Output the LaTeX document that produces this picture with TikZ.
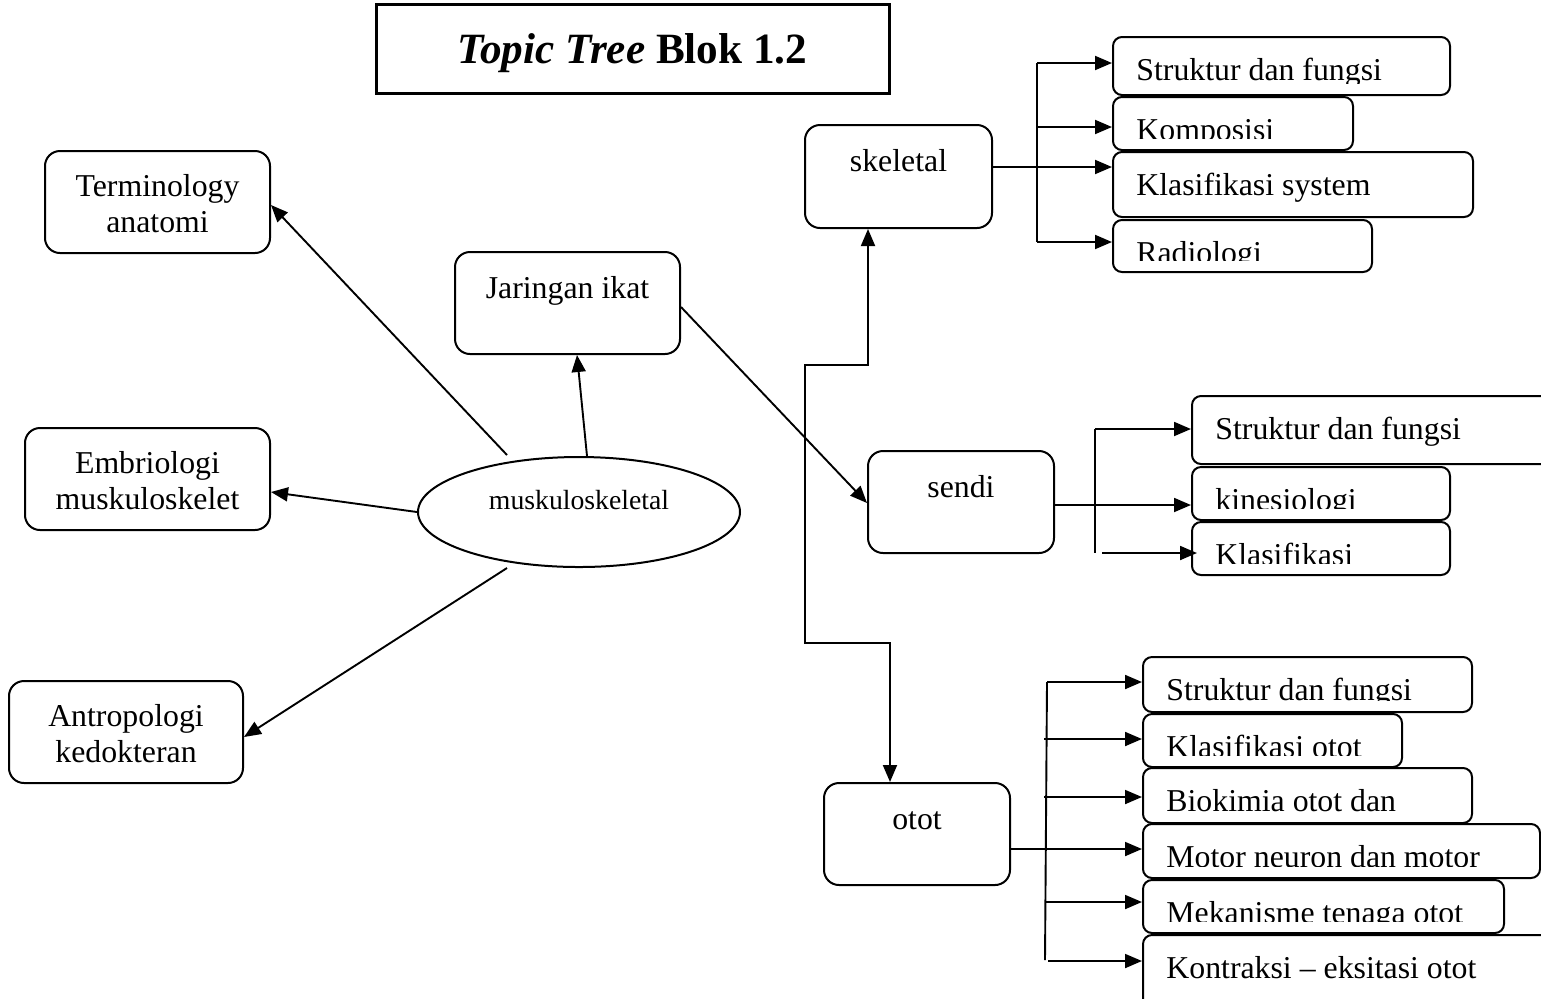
\documentclass[tikz,border=0pt]{standalone}
\usepackage{fontspec}
\setmainfont{Liberation Serif}
\usetikzlibrary{arrows.meta,shapes.geometric}
% left-aligned, clipped text box
\newcommand\lbox[6]{%
  \node[sbx, minimum width={(#4-#2)*0.5pt}, minimum height={(#5-#3)*0.5pt}] (#1) at ({(#2+#4)/2},{(#3+#5)/2}) {};
  \begin{scope}
    \clip (#2,#3) rectangle (#4,#5-12);
    \node[tx, anchor=base west] (#1-t) at (#2+23,#3+43) {#6};
  \end{scope}}
% centred single-line box
\newcommand\cbox[6]{%
  \node[bx, minimum width={(#4-#2)*0.5pt}, minimum height={(#5-#3)*0.5pt}] (#1) at ({(#2+#4)/2},{(#3+#5)/2}) {};
  \node[tx, anchor=base] (#1-t) at ({(#2+#4)/2},#3+46) {#6};}
% centred two-line box
\newcommand\tbox[7]{%
  \node[bx, minimum width={(#4-#2)*0.5pt}, minimum height={(#5-#3)*0.5pt}] (#1) at ({(#2+#4)/2},{(#3+#5)/2}) {};
  \node[tx, anchor=base] (#1-a) at ({(#2+#4)/2},#3+45) {#6};
  \node[tx, anchor=base] (#1-b) at ({(#2+#4)/2},#3+81) {#7};}
\begin{document}
\begin{tikzpicture}[x=0.5pt,y=-0.5pt,
  bx/.style={draw, line width=1pt, rounded corners=7.5pt, inner sep=0pt},
  sbx/.style={draw, line width=1pt, rounded corners=4.5pt, inner sep=0pt},
  tx/.style={inner sep=0pt, font=\fontsize{15.9}{18}\selectfont},
  tip/.tip={Triangle[length=8.5pt,width=7pt]},
  arr/.style={line width=0.95pt, -tip},
  ln/.style={line width=0.95pt}]
\useasboundingbox (0,0) rectangle (1541,998);
\clip (0,0) rectangle (1541,998);

% title
\node[draw, line width=1.5pt, minimum width=256.5pt, minimum height=44.5pt, inner sep=0pt] (title) at (632.5,48.5) {};
\node[inner sep=0pt, anchor=base, font=\fontsize{21.6}{24}\selectfont] (title-t) at (632.5,63) {\textbf{\textit{Topic Tree}} \textbf{Blok 1.2}};

% left boxes
\tbox{term}{45}{151}{270}{253}{Terminology}{anatomi}
\tbox{embr}{25}{428}{270}{530}{Embriologi}{muskuloskelet}
\tbox{antr}{9}{681}{243}{783}{Antropologi}{kedokteran}
\cbox{jar}{455}{252}{680}{354}{Jaringan ikat}

% central ellipse
\node[draw, ellipse, line width=1pt, minimum width=161pt, minimum height=55pt, inner sep=0pt] (musk) at (579,512) {};
\node[inner sep=0pt, anchor=base, font=\fontsize{13.85}{16}\selectfont] (musk-t) at (579,509) {muskuloskeletal};

% middle boxes
\cbox{skel}{805}{125}{992}{228}{skeletal}
\cbox{sendi}{868}{451}{1054}{553}{sendi}
\cbox{otot}{824}{783}{1010}{885}{otot}

% skeletal children
\lbox{ks1}{1113}{37}{1450}{95}{Struktur dan fungsi}
\lbox{ks2}{1113}{97}{1353}{150}{Komposisi}
\lbox{ks3}{1113}{152}{1473}{217}{Klasifikasi system}
\lbox{ks4}{1113}{220}{1372}{272}{Radiologi}

% sendi children
\lbox{ss1}{1192}{396}{1570}{464}{Struktur dan fungsi}
\lbox{ss2}{1192}{467}{1450}{520}{kinesiologi}
\lbox{ss3}{1192}{522}{1450}{575}{Klasifikasi}

% otot children
\lbox{ok1}{1143}{657}{1472}{712}{Struktur dan fungsi}
\lbox{ok2}{1143}{714}{1402}{767}{Klasifikasi otot}
\lbox{ok3}{1143}{768}{1472}{823}{Biokimia otot dan}
\lbox{ok4}{1143}{824}{1540}{878}{Motor neuron dan motor}
\lbox{ok5}{1143}{880}{1504}{933}{Mekanisme tenaga otot}
\lbox{ok6}{1143}{935}{1570}{1030}{Kontraksi – eksitasi otot}

% connectors from the ellipse
\coordinate (m1) at (507,455);
\coordinate (m3) at (507,568);
\draw[arr] (m1) -- (term.east |- 0,205);
\draw[arr] (musk.north -| 587,0) -- (jar.south -| 577,0);
\draw[arr] (musk.west) -- (embr.east |- 0,492);
\draw[arr] (m3) -- (antr.east |- 0,737);
\draw[arr] (jar.east |- 0,307) -- (sendi.west |- 0,503);

% skeletal - otot bracket
\draw[ln, tip-tip] (skel.south -| 868,0) -- (868,365) -- (805,365) -- (805,643) -- (890,643) -- (otot.north -| 890,0);

% skeletal branch
\coordinate (sb1) at (1037,63);
\coordinate (sb2) at (1037,127);
\coordinate (sb4) at (1037,242);
\draw[ln] (sb1) -- (sb4);
\draw[arr] (sb1) -- (ks1.west |- sb1);
\draw[arr] (sb2) -- (ks2.west |- sb2);
\draw[arr] (skel.east |- 0,167) -- (ks3.west |- 0,167);
\draw[arr] (sb4) -- (ks4.west |- sb4);

% sendi branch
\coordinate (sd1) at (1095,429);
\coordinate (sd3) at (1095,553);
\coordinate (sd3s) at (1102,553);
\coordinate (sd3e) at (1197,553);
\draw[ln] (sd1) -- (sd3);
\draw[arr] (sd1) -- (ss1.west |- sd1);
\draw[arr] (sendi.east |- 0,505) -- (ss2.west |- 0,505);
\draw[arr] (sd3s) -- (sd3e);

% otot branch
\coordinate (ob1) at (1047,682);
\coordinate (ob2) at (1044,739);
\coordinate (ob3) at (1044,797);
\coordinate (ob5) at (1045,902);
\coordinate (ob6) at (1048,961);
\draw[ln] (ob1) -- (1045,960);
\draw[arr] (ob1) -- (ok1.west |- ob1);
\draw[arr] (ob2) -- (ok2.west |- ob2);
\draw[arr] (ob3) -- (ok3.west |- ob3);
\draw[arr] (otot.east |- 0,849) -- (ok4.west |- 0,849);
\draw[arr] (ob5) -- (ok5.west |- ob5);
\draw[arr] (ob6) -- (ok6.west |- ob6);
\end{tikzpicture}
\end{document}
